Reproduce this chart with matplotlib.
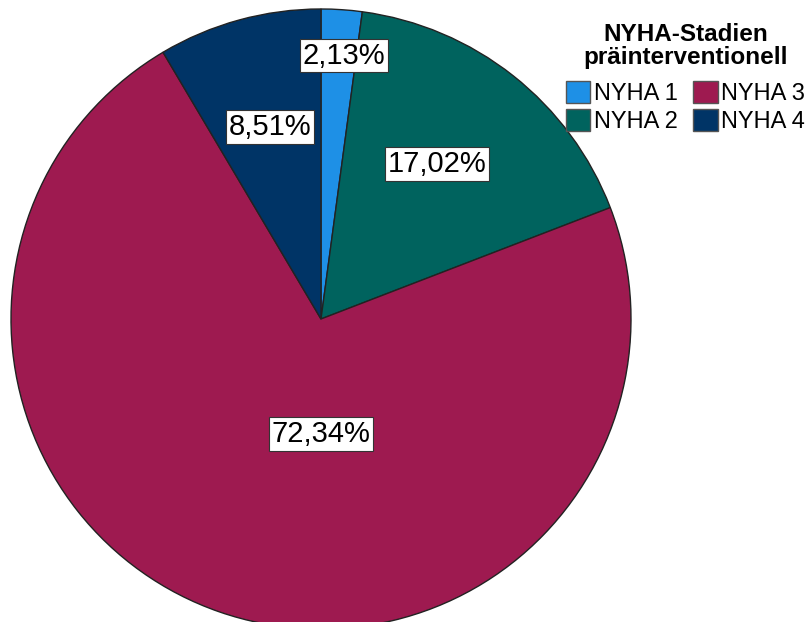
import matplotlib
matplotlib.use("Agg")
import matplotlib.pyplot as plt

plt.rcParams['font.family'] = ['Liberation Sans', 'DejaVu Sans']

categories = ["NYHA 1", "NYHA 2", "NYHA 3", "NYHA 4"]
shares = [2.13, 17.02, 72.34, 8.51]
colors = ["#1e90e6", "#00635e", "#9e1a50", "#003466"]
legend_title = "NYHA-Stadien\npräinterventionell"

W, H = 809, 622
fig = plt.figure(figsize=(W / 100, H / 100), dpi=100)
ax = fig.add_axes([0, 0, 1, 1])

cx, cy, r = 321, H - 319, 310
wedges, _ = ax.pie(shares, colors=colors, startangle=90, counterclock=False,
                   center=(cx, cy), radius=r, frame=True,
                   wedgeprops=dict(edgecolor="#222222", linewidth=1.0))
ax.set_xlim(0, W)
ax.set_ylim(0, H)
ax.set_aspect('equal')
ax.axis('off')

# label anchor offsets as fractions of the radius (x right, y up)
label_offsets = [(0.074, 0.85), (0.374, 0.50), (0.0, -0.371), (-0.165, 0.62)]
for val, (fx, fy) in zip(shares, label_offsets):
    ax.text(cx + fx * r, cy + fy * r, f"{val:.2f}%".replace('.', ','),
            ha='center', va='center', fontsize=21,
            bbox=dict(boxstyle='square,pad=0.1', facecolor='white',
                      edgecolor='#333333', linewidth=0.8))

leg = ax.legend(wedges, categories, title=legend_title, ncol=2,
                loc='upper right', bbox_to_anchor=(1.013, 0.985),
                frameon=False, fontsize=17,
                title_fontproperties=dict(size=17.5, weight='bold'),
                handlelength=1.05, handleheight=1.1, handletextpad=0.15,
                columnspacing=0.65, labelspacing=0.15, borderpad=0.1)
leg.get_title().set_multialignment('center')
leg.get_title().set_linespacing(1.0)
leg._legend_box.sep = 8
for h in leg.legend_handles:
    h.set_edgecolor('#555555')
    h.set_linewidth(1.0)

fig.savefig("out.png", dpi=100)
